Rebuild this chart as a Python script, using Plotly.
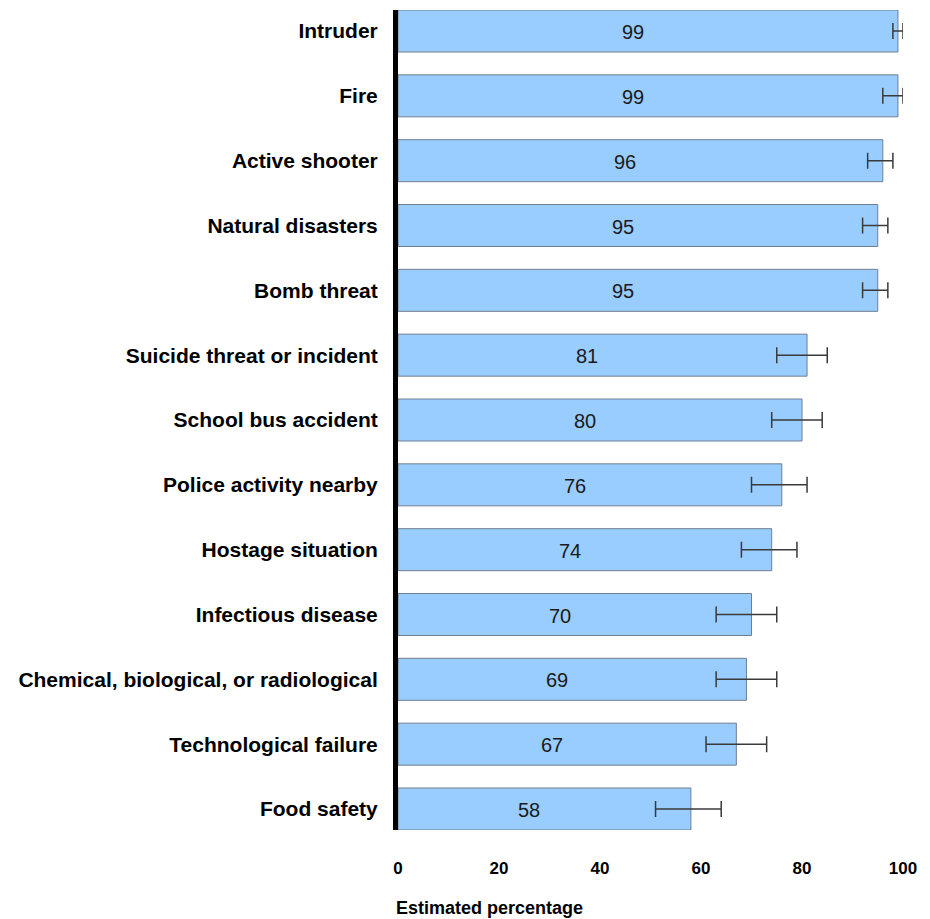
import plotly.graph_objects as go

categories = ["Intruder", "Fire", "Active shooter", "Natural disasters", "Bomb threat",
              "Suicide threat or incident", "School bus accident", "Police activity nearby",
              "Hostage situation", "Infectious disease", "Chemical, biological, or radiological",
              "Technological failure", "Food safety"]
values = [99, 99, 96, 95, 95, 81, 80, 76, 74, 70, 69, 67, 58]
ci_low = [98, 96, 93, 92, 92, 75, 74, 70, 68, 63, 63, 61, 51]
ci_high = [100, 100, 98, 97, 97, 85, 84, 81, 79, 75, 75, 73, 64]
x_ticks = [0, 20, 40, 60, 80, 100]

err_plus = [h - v for h, v in zip(ci_high, values)]
err_minus = [v - l for l, v in zip(ci_low, values)]

FONT = "Liberation Sans, Arial, sans-serif"

fig = go.Figure()
fig.add_trace(go.Bar(
    y=categories, x=values, orientation="h",
    marker=dict(color="#99CCFF", line=dict(color="#6f7f90", width=1)),
    error_x=dict(type="data", symmetric=False, array=err_plus, arrayminus=err_minus,
                 color="#3a3a3a", thickness=1.5, width=8),
    hoverinfo="x+y", showlegend=False,
))

fig.update_layout(
    width=922, height=911,
    margin=dict(l=390, r=27, t=2, b=89),
    plot_bgcolor="white", paper_bgcolor="white",
    bargap=0.352,
    font=dict(family=FONT, color="black"),
    xaxis=dict(range=[0, 100], tickvals=x_ticks, showgrid=False, zeroline=False,
               showline=False, ticks="", ticklabelstandoff=26,
               tickfont=dict(family=FONT, size=17, weight="bold", color="black")),
    yaxis=dict(categoryorder="array", categoryarray=categories, autorange=False,
               range=[12.324, -0.324], showgrid=False, zeroline=False,
               showline=True, linecolor="black", linewidth=5,
               ticks="", ticklabelstandoff=11,
               tickfont=dict(family=FONT, size=21, weight="bold", color="black")),
    annotations=[dict(text="<b>Estimated percentage</b>", xref="paper", yref="paper",
                      x=0, y=-(908 - 830) / 820, xanchor="left", yanchor="middle",
                      xshift=-4, showarrow=False,
                      font=dict(family=FONT, size=18, color="black"))],
)

for cat, v in zip(categories, values):
    fig.add_annotation(x=v / 2 - 3, y=cat, xref="x", yref="y", text=str(v),
                       showarrow=False, xanchor="center", yanchor="middle", yshift=-1,
                       font=dict(family=FONT, size=20, color="#1a1a1a"))

fig.write_html("out.html")
